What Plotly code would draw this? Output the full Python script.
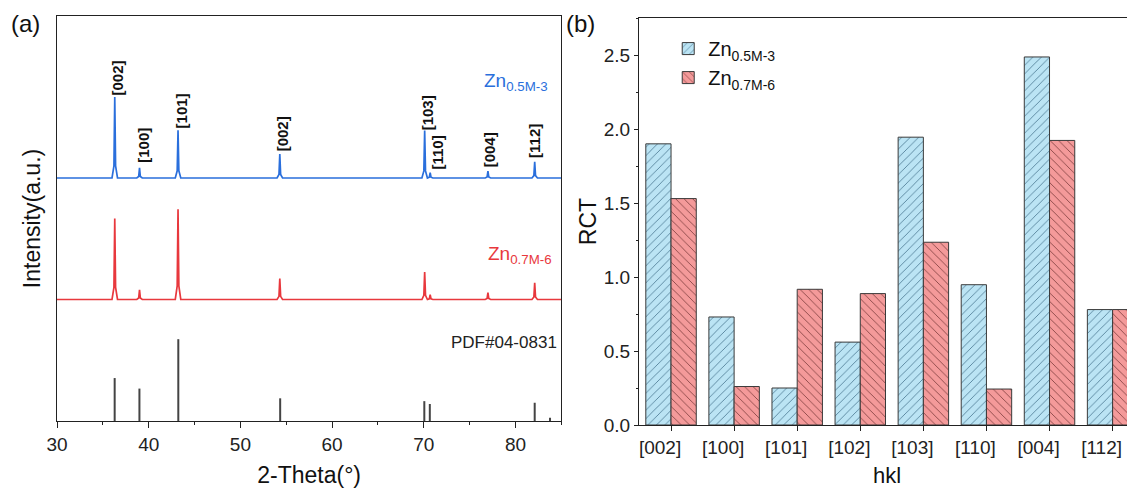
import plotly.graph_objects as go

# ---------------- Panel (a): XRD patterns ----------------
peak_2theta = [36.3, 39.0, 43.2, 54.3, 70.1, 70.7, 77.0, 82.1]
zn05_base = 60
zn05_heights = [20.0, 2.5, 11.8, 5.9, 11.7, 1.3, 1.7, 4.0]
zn07_base = 30
zn07_heights = [20.0, 2.4, 22.3, 5.2, 6.8, 1.2, 1.7, 4.1]
pdf_2theta = [36.29, 38.99, 43.23, 54.34, 70.06, 70.66, 82.10, 83.77]
pdf_heights = [10.6, 8.0, 20.2, 5.6, 4.9, 4.2, 4.5, 0.8]
peak_labels = ["[002]", "[100]", "[101]", "[002]", "[103]", "[110]", "[004]", "[112]"]
label_x = [36.65, 39.4, 43.55, 54.55, 70.35, 71.45, 77.15, 82.15]
label_y = [84.8, 68.0, 76.5, 70.8, 76.2, 66.3, 66.9, 69.2]

# ---------------- Panel (b): RCT bars ----------------
hkl = ["[002]", "[100]", "[101]", "[102]", "[103]", "[110]", "[004]", "[112]"]
rct_05 = [1.90, 0.73, 0.25, 0.56, 1.945, 0.948, 2.487, 0.78]
rct_07 = [1.53, 0.26, 0.917, 0.888, 1.235, 0.243, 1.923, 0.78]

FONT = "Liberation Sans, Arial, sans-serif"
BLUE = "#2a6fdc"
RED = "#e8383d"
AXC = "#222222"


def profile(base, pos, hts, x0=30, x1=85):
    xs, ys = [x0], [base]
    shape = [(-0.3, 0.0), (-0.09, 0.15), (0.0, 1.0), (0.09, 0.15), (0.3, 0.0)]
    for p, h in zip(pos, hts):
        for dx, f in shape:
            xs.append(p + dx)
            ys.append(base + f * h)
    xs.append(x1)
    ys.append(base)
    return xs, ys


fig = go.Figure()

bx, by = profile(zn05_base, peak_2theta, zn05_heights)
rx, ry = profile(zn07_base, peak_2theta, zn07_heights)
fig.add_trace(go.Scatter(x=bx, y=by, mode="lines", line=dict(color=BLUE, width=1.7),
                         showlegend=False, xaxis="x", yaxis="y"))
fig.add_trace(go.Scatter(x=rx, y=ry, mode="lines", line=dict(color=RED, width=1.7),
                         showlegend=False, xaxis="x", yaxis="y"))
sx, sy = [], []
for p, h in zip(pdf_2theta, pdf_heights):
    sx += [p, p, None]
    sy += [0, h, None]
fig.add_trace(go.Scatter(x=sx, y=sy, mode="lines", line=dict(color="#444444", width=2),
                         showlegend=False, xaxis="x", yaxis="y"))

fig.add_trace(go.Bar(x=hkl, y=rct_05, name="Zn<sub>0.5M-3</sub>", xaxis="x2", yaxis="y2",
                     marker=dict(color="#bbe4f4", line=dict(color="#3a3a3a", width=1),
                                 pattern=dict(shape="/", size=6, solidity=0.12,
                                              fgcolor="#3d6a86", bgcolor="#bbe4f4",
                                              fillmode="replace"))))
fig.add_trace(go.Bar(x=hkl, y=rct_07, name="Zn<sub>0.7M-6</sub>", xaxis="x2", yaxis="y2",
                     marker=dict(color="#f49a9a", line=dict(color="#3a3a3a", width=1),
                                 pattern=dict(shape="\\", size=6, solidity=0.12,
                                              fgcolor="#6e3030", bgcolor="#f49a9a",
                                              fillmode="replace"))))

annotations = []
for t, x, y in zip(peak_labels, label_x, label_y):
    annotations.append(dict(x=x, y=y, xref="x", yref="y", text="<b>" + t + "</b>",
                            showarrow=False, textangle=-90,
                            font=dict(family=FONT, size=15, color="#111"),
                            xanchor="center", yanchor="middle"))
annotations += [
    dict(x=83.75, y=83.7, xref="x", yref="y", text="Zn<sub>0.5M-3</sub>", showarrow=False,
         xanchor="right", yanchor="middle", font=dict(family=FONT, size=19, color=BLUE)),
    dict(x=84.25, y=41.0, xref="x", yref="y", text="Zn<sub>0.7M-6</sub>", showarrow=False,
         xanchor="right", yanchor="middle", font=dict(family=FONT, size=19, color=RED)),
    dict(x=84.8, y=19.3, xref="x", yref="y", text="PDF#04-0831", showarrow=False,
         xanchor="right", yanchor="middle", font=dict(family=FONT, size=17, color="#222")),
    dict(x=-0.029, y=0.982, xref="paper", yref="paper", text="(a)", showarrow=False,
         xanchor="center", yanchor="middle", font=dict(family=FONT, size=24, color="#111")),
    dict(x=0.486, y=0.982, xref="paper", yref="paper", text="(b)", showarrow=False,
         xanchor="center", yanchor="middle", font=dict(family=FONT, size=24, color="#111")),
]

tickfont = dict(family=FONT, size=19, color="#222")
titlefont = dict(family=FONT, size=23, color="#111")

# The page body adds an 8 px offset, so the figure is 8 px smaller than the window.
fig.update_layout(
    width=1127, height=480,
    margin=dict(l=49, r=0, t=8, b=63),
    paper_bgcolor="white", plot_bgcolor="white",
    barmode="group", bargap=0.2, bargroupgap=0,
    font=dict(family=FONT),
    annotations=annotations,
    legend=dict(x=0.567, y=0.968, xanchor="left", yanchor="top",
                font=dict(family=FONT, size=20, color="#111"),
                bgcolor="rgba(0,0,0,0)", tracegroupgap=0),
    xaxis=dict(domain=[0, 0.4678], range=[30, 85], dtick=10, tick0=30,
               ticks="outside", ticklen=6, tickwidth=1.3, tickcolor=AXC,
               minor=dict(dtick=5, ticks="outside", ticklen=3, tickcolor=AXC),
               showline=True, linecolor=AXC, linewidth=1.3, mirror=True,
               showgrid=False, zeroline=False, tickfont=tickfont, automargin=False,
               title=dict(text="2-Theta(°)", font=titlefont, standoff=15)),
    yaxis=dict(domain=[0.0098, 1], range=[0, 100], showticklabels=False, ticks="",
               showline=True, linecolor=AXC, linewidth=1.3, mirror=True,
               showgrid=False, zeroline=False, automargin=False,
               title=dict(text="Intensity(a.u.)", font=titlefont, standoff=8)),
    xaxis2=dict(domain=[0.540, 1], type="category", range=[-0.506, 7.355],
                ticks="outside", ticklen=5, tickwidth=1.3, tickcolor=AXC,
                showline=True, linecolor=AXC, linewidth=1.3, mirror=True,
                showgrid=False, zeroline=False, tickfont=tickfont, ticklabelshift=-11,
                automargin=False, anchor="y2",
                title=dict(text="hkl", font=dict(family=FONT, size=22, color="#111"), standoff=15)),
    yaxis2=dict(domain=[0, 0.995], range=[0, 2.75], dtick=0.5, tickformat=".1f",
                ticks="outside", ticklen=4, tickwidth=1.3, tickcolor=AXC,
                minor=dict(dtick=0.25, ticks="outside", ticklen=2, tickcolor=AXC),
                showline=True, linecolor=AXC, linewidth=1.3, mirror=False,
                showgrid=False, zeroline=False, tickfont=tickfont, anchor="x2",
                automargin=False,
                title=dict(text="RCT", font=dict(family=FONT, size=23, color="#111"), standoff=0)),
)

fig.write_html("out.html")
